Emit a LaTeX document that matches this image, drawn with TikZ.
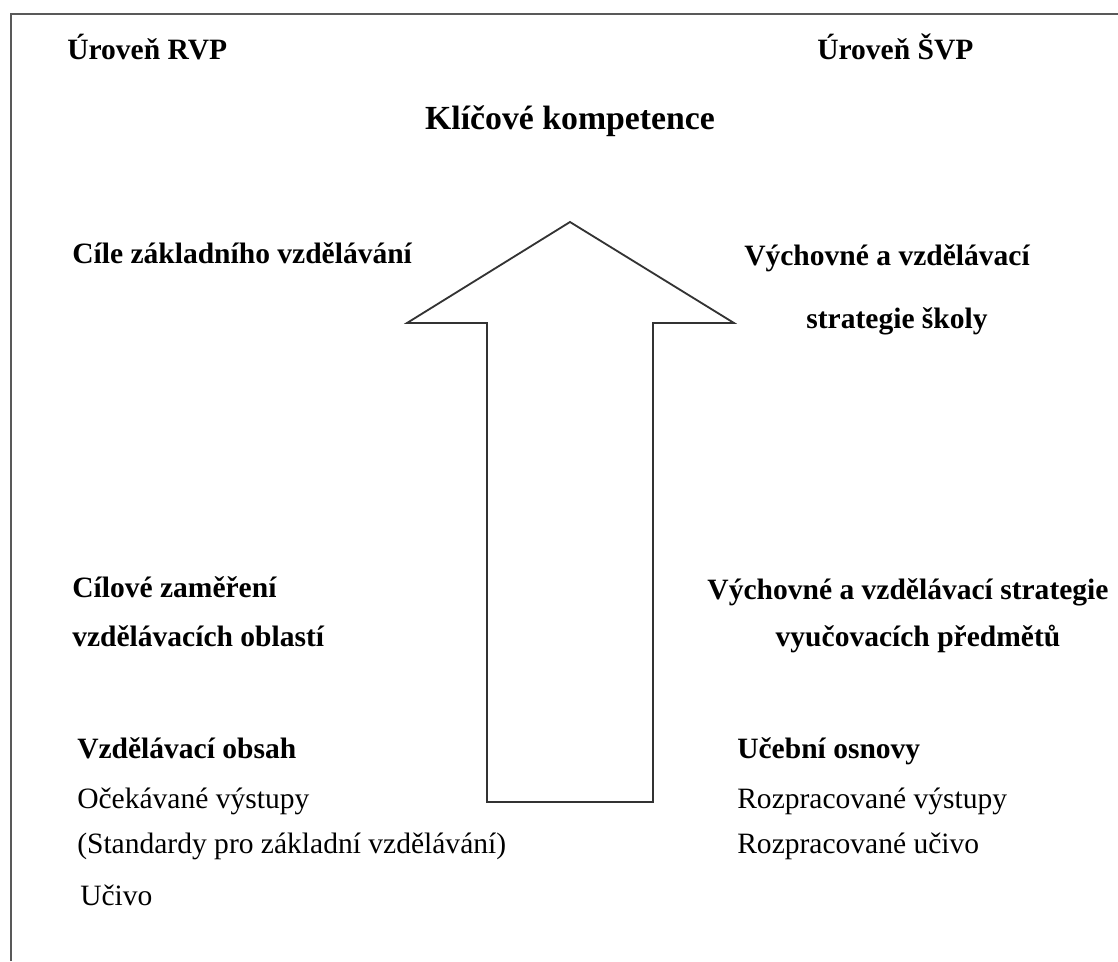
\documentclass[tikz,border=0pt]{standalone}
\usepackage{fontspec}
\setmainfont{Liberation Serif}
\tikzset{
  head/.style={inner sep=0pt, font=\fontsize{21}{25}\selectfont\bfseries},
  title/.style={inner sep=0pt, font=\fontsize{24}{29}\selectfont\bfseries},
  item/.style={inner sep=0pt, font=\fontsize{21}{25}\selectfont},
  blockarrow/.style={draw=black!80, line width=1.3pt, line join=miter},
}
\begin{document}
\begin{tikzpicture}[x=0.025cm,y=-0.025cm]
  \useasboundingbox (0,0) rectangle (1118,961);

  % frame (only top and left edge visible)
  \draw[black!65, line width=1.6pt] (11,961) -- (11,14) -- (1118,14);

  % levels
  \node[head, anchor=base west] (rvp) at (67,59) {Úroveň RVP};
  \node[head, anchor=base west] (svp) at (817,59) {Úroveň ŠVP};
  \node[title, anchor=base] (komp) at (570,129) {Klíčové kompetence};

  % big arrow
  \coordinate (tip) at (570,222);
  \coordinate (hl) at (407,323);
  \coordinate (hr) at (734,323);
  \draw[blockarrow] (tip) -- (hr) -- (653,323) -- (653,802) -- (487,802)
    -- (487,323) -- (hl) -- cycle;

  % left column
  \node[head, anchor=base west] (cile) at (72,263) {Cíle základního vzdělávání};
  \node[head, anchor=base west] (cilzam) at (72,597) {Cílové zaměření};
  \node[head, anchor=base west] (oblasti) at (72,646) {vzdělávacích oblastí};
  \node[head, anchor=base west] (obsah) at (77,758) {Vzdělávací obsah};
  \node[item, anchor=base west] (vystupy) at (77,808) {Očekávané výstupy};
  \node[item, anchor=base west] (standardy) at (77,853) {(Standardy pro základní vzdělávání)};
  \node[item, anchor=base west] (ucivo) at (80,905) {Učivo};

  % right column
  \node[head, anchor=base] (strat) at (887,265) {Výchovné a vzdělávací};
  \node[head, anchor=base] (skoly) at (897,328) {strategie školy};
  \node[head, anchor=base] (stratp) at (908,599) {Výchovné a vzdělávací strategie};
  \node[head, anchor=base] (predm) at (918,646) {vyučovacích předmětů};
  \node[head, anchor=base west] (osnovy) at (737,758) {Učební osnovy};
  \node[item, anchor=base west] (rvyst) at (737,808) {Rozpracované výstupy};
  \node[item, anchor=base west] (rucivo) at (737,853) {Rozpracované učivo};
\end{tikzpicture}
\end{document}
